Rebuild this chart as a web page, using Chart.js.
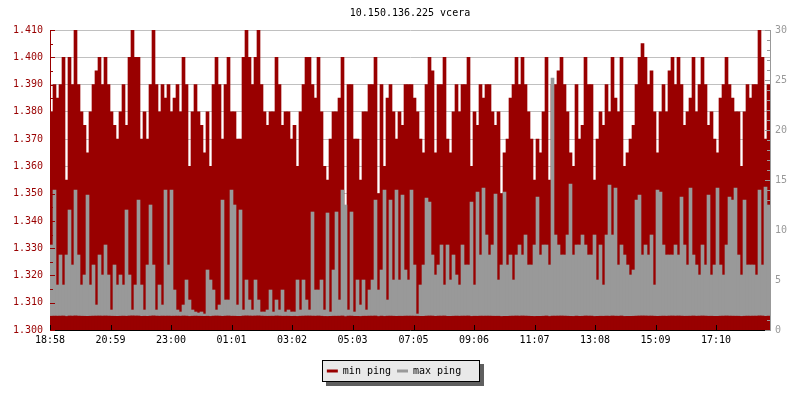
<!DOCTYPE html>
<html>
<head>
<meta charset="utf-8">
<script src="https://cdn.jsdelivr.net/npm/chart.js@4"></script>
<style>
  body { margin: 0; background: #fff; }
</style>
</head>
<body>
<canvas id="pingChart" width="800" height="400"></canvas>
<script>
// one sample every 6 minutes, 24 hours starting 18:58
var startTime = "18:58";
var sampleMinutes = 6;
var tickLabels = ["18:58", "20:59", "23:00", "01:01", "03:02", "05:03", "07:05", "09:06", "11:07", "13:08", "15:09", "17:10"];

// min ping (left axis)
var minPing = [
  1.38,1.39,1.385,1.39,1.40,1.355,1.40,1.39,1.41,1.39,
  1.38,1.375,1.365,1.38,1.39,1.395,1.40,1.39,1.40,1.39,
  1.38,1.375,1.37,1.38,1.39,1.375,1.40,1.41,1.40,1.40,
  1.37,1.38,1.37,1.39,1.41,1.39,1.38,1.39,1.385,1.39,
  1.38,1.385,1.39,1.38,1.40,1.39,1.36,1.38,1.39,1.38,
  1.375,1.365,1.38,1.36,1.39,1.40,1.39,1.37,1.39,1.40,
  1.38,1.38,1.37,1.37,1.40,1.41,1.40,1.39,1.40,1.41,
  1.39,1.38,1.375,1.38,1.38,1.40,1.39,1.375,1.38,1.38,
  1.37,1.375,1.36,1.38,1.39,1.40,1.40,1.39,1.385,1.40,
  1.38,1.36,1.355,1.37,1.38,1.38,1.385,1.40,1.34,1.39,
  1.39,1.37,1.37,1.355,1.38,1.38,1.39,1.39,1.40,1.35,
  1.39,1.36,1.385,1.39,1.38,1.37,1.38,1.375,1.39,1.39,
  1.39,1.385,1.38,1.37,1.365,1.39,1.40,1.395,1.365,1.39,
  1.39,1.40,1.37,1.365,1.38,1.39,1.38,1.39,1.39,1.40,
  1.36,1.38,1.375,1.39,1.385,1.39,1.39,1.38,1.375,1.38,
  1.35,1.365,1.37,1.385,1.39,1.40,1.39,1.40,1.39,1.38,
  1.37,1.355,1.37,1.365,1.38,1.40,1.355,1.39,1.39,1.395,
  1.40,1.39,1.38,1.365,1.36,1.39,1.37,1.375,1.40,1.39,
  1.39,1.355,1.37,1.38,1.375,1.39,1.38,1.40,1.385,1.38,
  1.40,1.36,1.365,1.37,1.375,1.39,1.40,1.405,1.40,1.39,
  1.395,1.38,1.365,1.38,1.39,1.38,1.395,1.40,1.39,1.40,
  1.39,1.375,1.38,1.385,1.40,1.38,1.39,1.40,1.39,1.375,
  1.38,1.37,1.365,1.385,1.39,1.40,1.39,1.385,1.38,1.38,
  1.36,1.38,1.39,1.385,1.39,1.39,1.41,1.40,1.37,1.39
];

// max ping (right axis)
var maxPing = [
  8.5,14,4.5,7.5,4.5,7.5,12,6.5,14,7.5,
  4.5,5.5,13.5,4.5,6.5,2.5,7.5,5.5,8.5,5.5,
  2,6.5,4.5,5.5,4.5,12,5.5,2,4.5,13,
  4.5,2,6.5,12.5,6.5,2,4.5,2.5,14,6.5,
  14,4,2,1.8,2.5,5,3,2,1.8,1.7,
  1.8,1.6,6,5,4,2,2.5,13,3,3,
  14,12.5,2.5,12,2,5,3,2,5,3,
  1.8,1.8,2,4,1.8,3,2,4,1.8,2,
  1.8,1.8,5,2,5,3,2,11.8,4,4,
  5,2,11.7,1.8,6,11.8,3,14,12.5,2,
  11.8,1.8,5,2.5,5,2,4,5,13,4,
  6,14,3,13,5,14,5,13.5,6,5,
  14,6.5,1.6,4.5,6.5,13.2,12.8,7.5,5.5,6.5,
  8.5,4.5,8.5,5,7.5,5.5,4.5,8.5,6.5,6.5,
  12.8,4.5,13.8,7.5,14.2,9.5,7.5,8.5,13.6,5,
  6.5,13.8,6.5,7.5,5,7.5,8.5,7.5,9.5,6.5,
  6.5,8.5,13.3,7.5,8.5,8.5,6.5,25.2,9.5,8.5,
  7.5,7.5,9.5,14.6,7.5,8.5,8.5,9.5,8.5,7.5,
  7.5,9.5,5,8.5,4.5,9.5,14.5,9.5,14.2,6.5,
  8.5,7.5,6.5,5.5,6,13,13.5,7.5,8.5,7.5,
  9.5,4.5,14,13.8,8.5,7.5,7.5,7.5,8.5,7.5,
  13.3,8.5,6.5,14.2,7.5,6.5,5.5,8.5,6.5,13.5,
  5.5,6.5,14.2,6.5,5.5,8.5,13.3,13,14.2,7.5,
  5.5,13,6.5,6.5,6.5,5.5,14,6.5,14.3,12.5
];

var leftMin = 1.30, leftMax = 1.41;
var rightMin = 0, rightMax = 30;

function minutesFromStart(label) {
  var p = label.split(":").map(Number);
  var s = startTime.split(":").map(Number);
  return (p[0] * 60 + p[1] - (s[0] * 60 + s[1]) + 1440) % 1440;
}

function points(values) {
  return values.map(function (v, i) {
    return { x: i * sampleMinutes + sampleMinutes / 2, y: v };
  });
}

Chart.defaults.font.family = "'DejaVu Sans Mono', monospace";
Chart.defaults.font.size = 10;

// legend box with shadow, centered title and small tick marks
const frame = {
  id: "frame",
  afterLayout(chart) {
    const a = chart.chartArea;
    chart.titleBlock.left = a.left;
    chart.titleBlock.right = a.right;
    chart.legend.left -= 6;
    chart.legend.right -= 6;
  },
  beforeDraw(chart) {
    const hb = chart.legend.legendHitBoxes;
    if (!hb || !hb.length) return;
    const ctx = chart.ctx;
    const first = hb[0], last = hb[hb.length - 1];
    const x0 = Math.round(first.left - 5), x1 = Math.round(last.left + last.width + 19);
    const y0 = Math.round(first.top - 6), y1 = Math.round(first.top + first.height + 6);
    ctx.save();
    ctx.fillStyle = "#5f5f5f";
    ctx.fillRect(x0 + 4, y0 + 4, x1 - x0, y1 - y0);
    ctx.fillStyle = "#e9e9e9";
    ctx.fillRect(x0, y0, x1 - x0, y1 - y0);
    ctx.strokeStyle = "#000";
    ctx.lineWidth = 1;
    ctx.strokeRect(x0 + 0.5, y0 + 0.5, x1 - x0 - 1, y1 - y0 - 1);
    ctx.restore();
  },
  afterDatasetsDraw(chart) {
    const ctx = chart.ctx;
    const a = chart.chartArea;
    const sx = chart.scales.x, sy = chart.scales.y, sy1 = chart.scales.y1;
    function line(x0, y0, x1, y1) {
      ctx.beginPath(); ctx.moveTo(x0, y0); ctx.lineTo(x1, y1); ctx.stroke();
    }
    ctx.save();
    ctx.lineWidth = 1;
    ctx.strokeStyle = "#000";
    sx.ticks.forEach(function (t) {
      const px = Math.round(sx.getPixelForValue(t.value)) + 0.5;
      line(px, a.bottom - 5, px, a.bottom);
    });
    ctx.strokeStyle = "#990000";
    for (let k = 0; k <= 22; k++) {
      const py = Math.round(sy.getPixelForValue(leftMin + k * 0.005)) + 0.5;
      line(a.left, py, a.left + (k % 2 ? 3 : 5), py);
    }
    ctx.strokeStyle = "#999999";
    for (let v = rightMin; v <= rightMax; v++) {
      const py = Math.round(sy1.getPixelForValue(v)) + 0.5;
      line(a.right, py, a.right - (v % 5 ? 3 : 5), py);
    }
    ctx.restore();
  }
};

new Chart(document.getElementById("pingChart"), {
  type: "bar",
  data: {
    datasets: [
      {
        label: "min ping",
        data: points(minPing),
        yAxisID: "y",
        backgroundColor: "#990000",
        borderWidth: 0,
        grouped: false,
        barPercentage: 1,
        categoryPercentage: 1,
        order: 3
      },
      {
        label: "max ping",
        data: points(maxPing),
        yAxisID: "y1",
        backgroundColor: "#999999",
        borderWidth: 0,
        grouped: false,
        barPercentage: 1,
        categoryPercentage: 1,
        order: 2
      },
      {
        label: "min ping (ms)",
        data: points(minPing),
        yAxisID: "y1",
        backgroundColor: "#990000",
        borderWidth: 0,
        grouped: false,
        barPercentage: 1,
        categoryPercentage: 1,
        order: 1
      }
    ]
  },
  options: {
    responsive: false,
    animation: false,
    layout: { padding: { top: 0, bottom: 14, left: 0, right: 0 } },
    plugins: {
      title: {
        display: true,
        text: "10.150.136.225 vcera",
        color: "#000",
        font: { size: 10, weight: "normal" },
        padding: { top: 7, bottom: 11 }
      },
      legend: {
        display: true,
        position: "bottom",
        labels: {
          color: "#000",
          boxWidth: 11,
          boxHeight: 3,
          padding: 6,
          filter: function (item) { return item.datasetIndex !== 2; },
          sort: function (a, b) { return a.datasetIndex - b.datasetIndex; }
        }
      },
      tooltip: { enabled: false }
    },
    scales: {
      x: {
        type: "linear",
        min: 0,
        max: 1440,
        offset: false,
        afterBuildTicks: function (scale) {
          scale.ticks = tickLabels.map(function (l) { return { value: minutesFromStart(l) }; });
        },
        afterFit: function (scale) { scale.height = 30; },
        ticks: {
          color: "#000",
          padding: 4,
          autoSkip: false,
          maxRotation: 0,
          callback: function (value, index) { return tickLabels[index]; }
        },
        grid: { display: false, drawTicks: false },
        border: { color: "#000" }
      },
      y: {
        position: "left",
        min: leftMin,
        max: leftMax,
        beginAtZero: false,
        afterFit: function (scale) { scale.width = 50; },
        ticks: {
          stepSize: 0.01,
          color: "#990000",
          padding: 7,
          callback: function (v) { return v.toFixed(3); }
        },
        grid: { color: "#c0c0c0", drawTicks: false },
        border: { color: "#990000" }
      },
      y1: {
        position: "right",
        min: rightMin,
        max: rightMax,
        beginAtZero: false,
        afterFit: function (scale) { scale.width = 30; },
        ticks: { stepSize: 5, color: "#999999", padding: 5 },
        grid: { display: false, drawTicks: false },
        border: { color: "#999999" }
      }
    }
  },
  plugins: [frame]
});
</script>
</body>
</html>
